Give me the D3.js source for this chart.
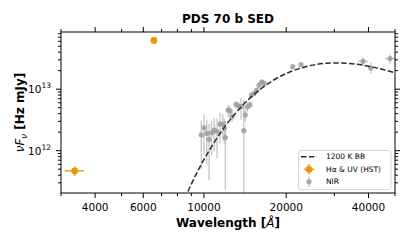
<!DOCTYPE html>
<html>
<head>
<meta charset="utf-8">
<script src="https://cdn.jsdelivr.net/npm/d3@7"></script>
<style>
body { margin: 0; background: #fff; }
text { font-family: "DejaVu Sans", sans-serif; }
</style>
</head>
<body>
<div id="chart"></div>
<script>
var width = 415, height = 244;

// axis ticks
var xMajor = [4000, 6000, 10000, 20000, 40000];
var xMinor = [3000, 5000, 7000, 8000, 9000, 30000, 50000];
var yMajor = [1e12, 1e13];
var yMajorExp = ["12", "13"];
var yMinor = [3e11, 4e11, 5e11, 6e11, 7e11, 8e11, 9e11,
              2e12, 3e12, 4e12, 5e12, 6e12, 7e12, 8e12, 9e12,
              2e13, 3e13, 4e13, 5e13, 6e13, 7e13, 8e13];

// 1200 K blackbody
var bbWave = [8500, 9000, 9500, 10000, 10500, 11000, 12000, 13000, 14000, 15000, 16000,
              18000, 20000, 22000, 25000, 28000, 31000, 34000, 38000, 42000, 46000, 50000];
var bbFlux = [1.65e11, 2.88e11, 4.68e11, 7.18e11, 1.04e12, 1.455e12, 2.55e12, 3.99e12, 5.74e12, 7.69e12, 9.79e12,
              1.41e13, 1.80e13, 2.12e13, 2.46e13, 2.63e13, 2.67e13, 2.62e13, 2.47e13, 2.26e13, 2.05e13, 1.85e13];

// H-alpha & UV (HST)
var hstWave = [3367, 6563];
var hstWaveErr = [270, 150];
var hstFlux = [4.7e11, 6.2e13];
var hstFluxErr = [0.8e11, 0.5e13];

// NIR points
var nirWave = [9780, 10010, 10240, 10440, 10660, 10910, 11170, 11450, 11720, 11870, 11980,
               12250, 12460, 12670, 13100, 13400, 13670, 13990, 14170, 14420, 14750,
               14910, 15250, 15600, 15910, 16270, 16600, 21130, 22660, 38200, 40770, 47960];
var nirWaveErr = [0, 0, 0, 0, 0, 0, 0, 0, 0, 0, 0,
                  0, 0, 0, 0, 0, 0, 0, 0, 0, 0,
                  0, 0, 0, 0, 0, 0, 0, 0, 1600, 0, 2000];
var nirFlux = [1.80e12, 2.36e12, 1.91e12, 1.53e12, 1.95e12, 2.17e12, 2.06e12, 2.71e12, 2.71e12, 2.31e12, 1.63e12,
               4.57e12, 4.45e12, 3.56e12, 5.65e12, 5.30e12, 5.17e12, 2.11e12, 3.79e12, 5.17e12, 5.57e12,
               8.0e12, 8.51e12, 9.64e12, 1.16e13, 1.31e13, 1.24e13, 2.32e13, 2.50e13, 2.84e13, 2.21e13, 3.15e13];
var nirFluxErr = [1.3e12, 1.5e12, 1.3e12, 1.2e12, 1.1e12, 1.2e12, 1.3e12, 1.4e12, 1.2e12, 1.0e12, 1.4e12,
                  1.0e12, 0.9e12, 0.6e12, 0.8e12, 0.8e12, 2.0e12, 4.5e12, 0.8e12, 1.0e12, 0.8e12,
                  0.6e12, 0.6e12, 0.6e12, 0.1e13, 0.1e13, 0.1e13, 0.1e13, 0.1e13, 0.45e13, 0.45e13, 0.55e13];

var orange = "#e8960a";

var svg = d3.select("#chart").append("svg")
    .attr("width", width)
    .attr("height", height);

var x = d3.scaleLog().domain([3000, 50000]).range([61, 395]);
var y = d3.scaleLog().domain([2.05e11, 8.5e13]).range([193, 32]);

svg.append("clipPath").attr("id", "clip")
  .append("rect")
    .attr("x", 61).attr("y", 32)
    .attr("width", 334).attr("height", 161);

var plot = svg.append("g").attr("clip-path", "url(#clip)");

// vertical error bar endpoints, clipped at bottom when error is larger than value
function yLo(f, e) { return f - e > 0 ? y(f - e) : 260; }

// NIR
var nir = nirWave.map(function(w, i) {
    return {w: w, we: nirWaveErr[i], f: nirFlux[i], fe: nirFluxErr[i]};
});
plot.selectAll("line.nir-ey")
    .data(nir).enter().append("line")
    .attr("class", "nir-ey")
    .attr("x1", function(d) { return x(d.w); })
    .attr("x2", function(d) { return x(d.w); })
    .attr("y1", function(d) { return y(d.f + d.fe); })
    .attr("y2", function(d) { return yLo(d.f, d.fe); })
    .attr("stroke", "#c4c4c4")
    .attr("stroke-width", 1.3);
plot.selectAll("line.nir-ex")
    .data(nir.filter(function(d) { return d.we > 0; })).enter().append("line")
    .attr("class", "nir-ex")
    .attr("x1", function(d) { return x(d.w - d.we); })
    .attr("x2", function(d) { return x(d.w + d.we); })
    .attr("y1", function(d) { return y(d.f); })
    .attr("y2", function(d) { return y(d.f); })
    .attr("stroke", "#c4c4c4")
    .attr("stroke-width", 1.3);
plot.selectAll("circle.nir")
    .data(nir).enter().append("circle")
    .attr("class", "nir")
    .attr("cx", function(d) { return x(d.w); })
    .attr("cy", function(d) { return y(d.f); })
    .attr("r", 2.6)
    .attr("fill", "#9c9c9c")
    .attr("fill-opacity", 0.85);

// HST
var hst = hstWave.map(function(w, i) {
    return {w: w, we: hstWaveErr[i], f: hstFlux[i], fe: hstFluxErr[i]};
});
plot.selectAll("line.hst-ey")
    .data(hst).enter().append("line")
    .attr("x1", function(d) { return x(d.w); })
    .attr("x2", function(d) { return x(d.w); })
    .attr("y1", function(d) { return y(d.f + d.fe); })
    .attr("y2", function(d) { return yLo(d.f, d.fe); })
    .attr("stroke", orange).attr("stroke-width", 1.4);
plot.selectAll("line.hst-ex")
    .data(hst).enter().append("line")
    .attr("x1", function(d) { return x(d.w - d.we); })
    .attr("x2", function(d) { return x(d.w + d.we); })
    .attr("y1", function(d) { return y(d.f); })
    .attr("y2", function(d) { return y(d.f); })
    .attr("stroke", orange).attr("stroke-width", 1.4);
plot.selectAll("circle.hst")
    .data(hst).enter().append("circle")
    .attr("cx", function(d) { return x(d.w); })
    .attr("cy", function(d) { return y(d.f); })
    .attr("r", 3.4)
    .attr("fill", orange);

// blackbody
var bb = bbWave.map(function(w, i) { return [w, bbFlux[i]]; });
plot.append("path")
    .datum(bb)
    .attr("d", d3.line()
        .x(function(d) { return x(d[0]); })
        .y(function(d) { return y(d[1]); })
        .curve(d3.curveMonotoneX))
    .attr("fill", "none")
    .attr("stroke", "#2b2b2b")
    .attr("stroke-width", 1.5)
    .attr("stroke-dasharray", "5.5,2.4");

// frame
svg.append("rect")
    .attr("x", 61).attr("y", 32)
    .attr("width", 334).attr("height", 161)
    .attr("fill", "none")
    .attr("stroke", "#000")
    .attr("stroke-width", 1);

// ticks, all outward and mirrored
function ticks(vals, len, horiz) {
    var g = svg.append("g");
    vals.forEach(function(v) {
        if (horiz) {
            var px = x(v);
            g.append("line").attr("x1", px).attr("x2", px).attr("y1", 193).attr("y2", 193 + len).attr("stroke", "#000");
            g.append("line").attr("x1", px).attr("x2", px).attr("y1", 32).attr("y2", 32 - len).attr("stroke", "#000");
        } else {
            var py = y(v);
            g.append("line").attr("y1", py).attr("y2", py).attr("x1", 61).attr("x2", 61 - len).attr("stroke", "#000");
            g.append("line").attr("y1", py).attr("y2", py).attr("x1", 395).attr("x2", 395 + len).attr("stroke", "#000");
        }
    });
}
ticks(xMajor, 5, true);
ticks(xMinor, 3, true);
ticks(yMajor, 5, false);
ticks(yMinor, 3, false);

svg.selectAll("text.xtick")
    .data(xMajor).enter().append("text")
    .attr("class", "xtick")
    .attr("x", function(d) { return x(d); })
    .attr("y", 210.8)
    .attr("text-anchor", "middle")
    .attr("font-size", 10.5)
    .text(function(d) { return d; });

var yl = svg.selectAll("text.ytick")
    .data(yMajor).enter().append("text")
    .attr("class", "ytick")
    .attr("x", 51)
    .attr("y", function(d) { return y(d) + 4; })
    .attr("text-anchor", "end")
    .attr("font-size", 10.5);
yl.append("tspan").text("10");
yl.append("tspan")
    .attr("dy", -5)
    .attr("font-size", 7.5)
    .text(function(d, i) { return yMajorExp[i]; });

// title and labels
svg.append("text")
    .attr("x", 228).attr("y", 22.5)
    .attr("text-anchor", "middle")
    .attr("font-size", 12)
    .attr("font-weight", "bold")
    .text("PDS 70 b SED");

var xlab = svg.append("text")
    .attr("x", 228).attr("y", 227)
    .attr("text-anchor", "middle")
    .attr("font-size", 12)
    .attr("font-weight", "bold");
xlab.append("tspan").text("Wavelength [");
xlab.append("tspan").attr("font-style", "italic").attr("font-weight", "normal").text("Å");
xlab.append("tspan").text("]");

var ylab = svg.append("text")
    .attr("transform", "translate(24,112.5) rotate(-90)")
    .attr("text-anchor", "middle")
    .attr("font-size", 12);
ylab.append("tspan").attr("font-style", "italic").text("ν");
ylab.append("tspan").attr("font-style", "italic").text("F");
ylab.append("tspan").attr("font-style", "italic").attr("font-size", 8.5).attr("dy", 2.5).text("ν");
ylab.append("tspan").attr("dy", -2.5).attr("font-weight", "bold").text(" [Hz mJy]");

// legend
var leg = svg.append("g");
leg.append("rect")
    .attr("x", 298.5).attr("y", 150.5)
    .attr("width", 92.5).attr("height", 39)
    .attr("rx", 2.5)
    .attr("fill", "#fff").attr("fill-opacity", 0.8)
    .attr("stroke", "#cccccc").attr("stroke-width", 0.8);
leg.append("line")
    .attr("x1", 301).attr("x2", 317).attr("y1", 156.7).attr("y2", 156.7)
    .attr("stroke", "#2b2b2b").attr("stroke-width", 1.5)
    .attr("stroke-dasharray", "5.5,2.4");
leg.append("line").attr("x1", 309).attr("x2", 309).attr("y1", 164).attr("y2", 174.5)
    .attr("stroke", orange).attr("stroke-width", 1.4);
leg.append("line").attr("x1", 303.7).attr("x2", 314.3).attr("y1", 169.3).attr("y2", 169.3)
    .attr("stroke", orange).attr("stroke-width", 1.4);
leg.append("circle").attr("cx", 309).attr("cy", 169.3).attr("r", 3.4).attr("fill", orange);
leg.append("line").attr("x1", 309).attr("x2", 309).attr("y1", 176.5).attr("y2", 187)
    .attr("stroke", "#c4c4c4").attr("stroke-width", 1.3);
leg.append("circle").attr("cx", 309).attr("cy", 181.7).attr("r", 2.6)
    .attr("fill", "#9c9c9c").attr("fill-opacity", 0.85);
var legText = ["1200 K BB", "Hα & UV (HST)", "NIR"];
leg.selectAll("text")
    .data(legText).enter().append("text")
    .attr("x", 326)
    .attr("y", function(d, i) { return 159.4 + i * 12.5; })
    .attr("font-size", 7.5)
    .text(function(d) { return d; });
</script>
</body>
</html>
